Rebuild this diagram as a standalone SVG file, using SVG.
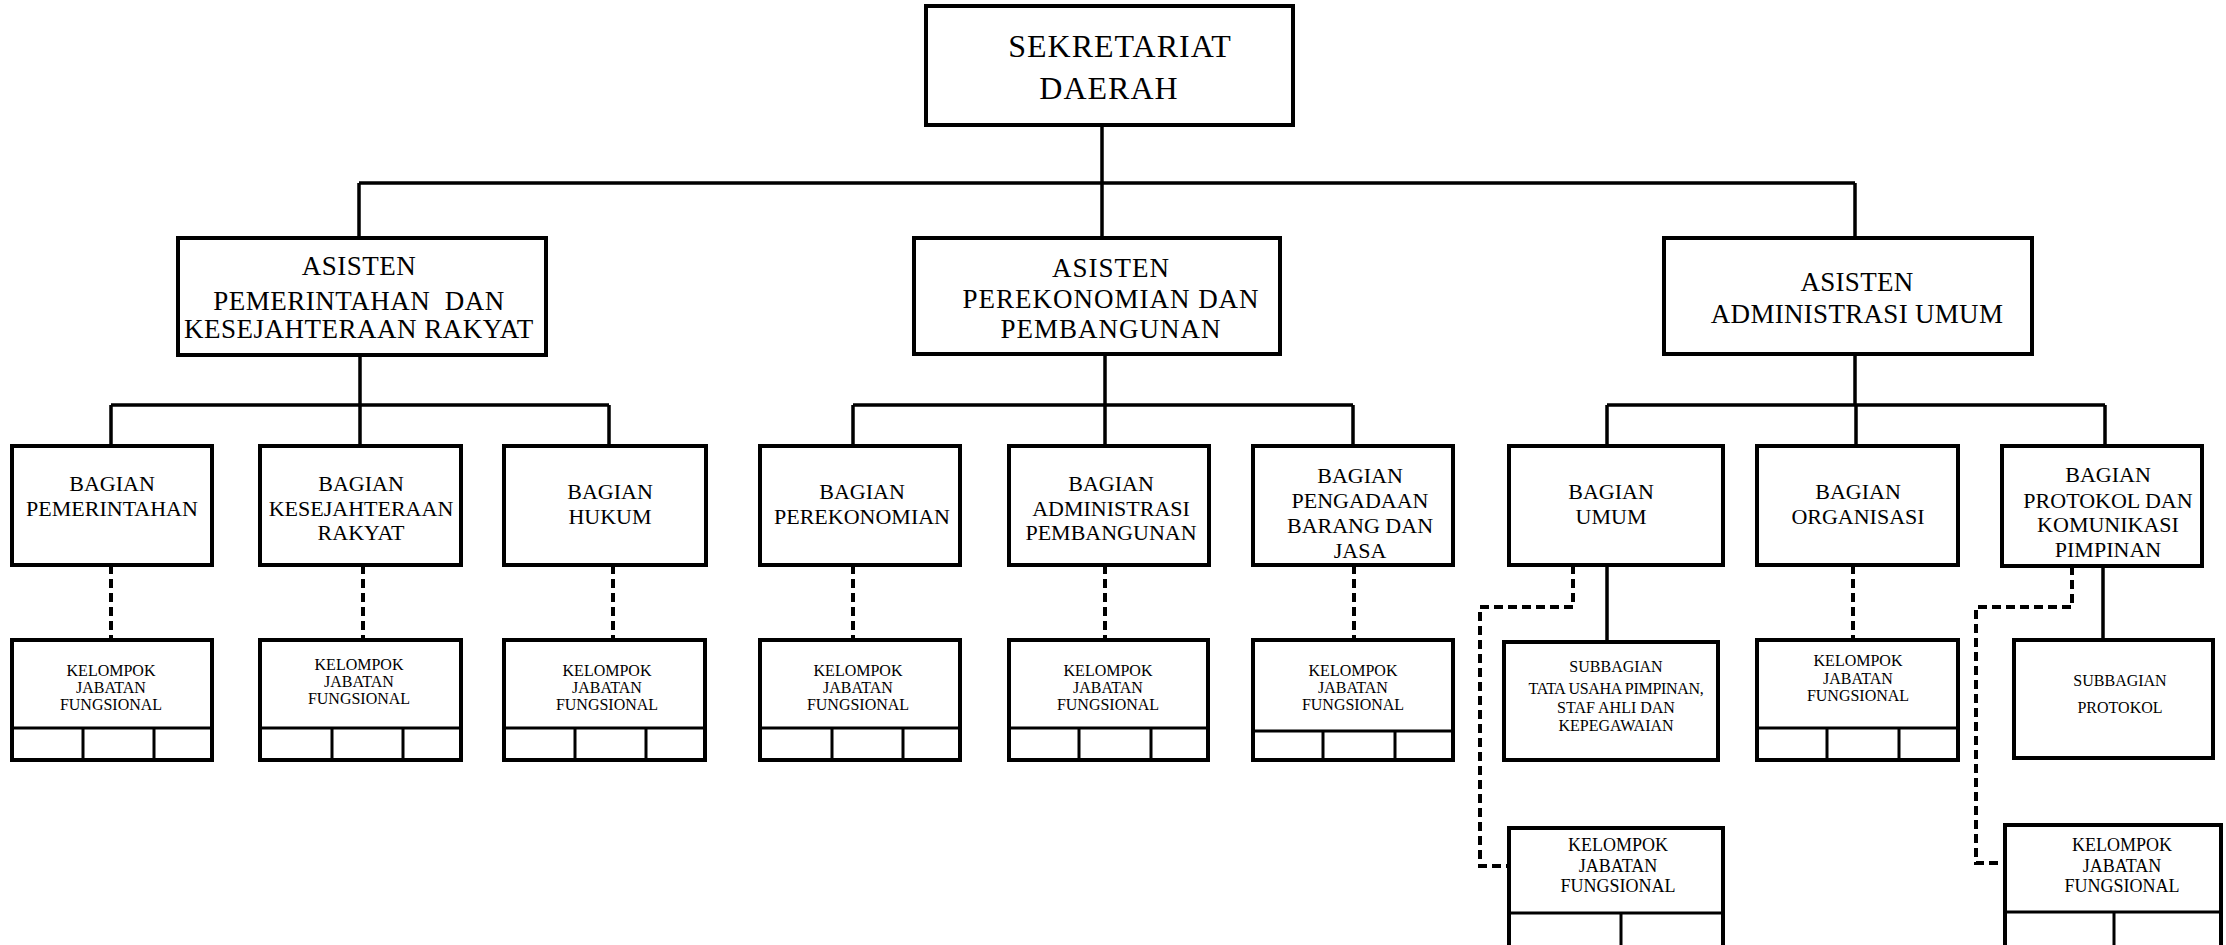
<svg xmlns="http://www.w3.org/2000/svg" width="2226" height="945" viewBox="0 0 2226 945">
<style>
.box{fill:#fff;stroke:#000;stroke-width:4}
.ln{fill:none;stroke:#000;stroke-width:3.5}
.ds{fill:none;stroke:#000;stroke-width:4;stroke-dasharray:9 5}
.dv{fill:none;stroke:#000;stroke-width:3}
text{font-family:"Liberation Serif","Times New Roman",serif;fill:#000;text-anchor:middle}
.t0{font-size:32px;letter-spacing:1px}
.t1{font-size:27px}
.t2{font-size:22px}
.t3{font-size:16px}
.t4{font-size:18px}
</style>
<rect width="2226" height="945" fill="#fff"/>
<g id="connectors">
<path class="ln" d="M1102,125V183M359,183H1855M359,183V238M1102,183V238M1855,183V238"/>
<path class="ln" d="M360,355V405M111,405H609M111,405V446M360,405V446M609,405V446"/>
<path class="ln" d="M1105,354V405M853,405H1353M853,405V446M1105,405V446M1353,405V446"/>
<path class="ln" d="M1855,354V405M1607,405H2105M1607,405V446M1856,405V446M2105,405V446"/>
<path class="ds" d="M111,565V640M363,565V640M613,565V640M853,565V640M1105,565V640M1354,565V640M1853,565V640"/>
<path class="ln" d="M1607,565V642M2103,566V640"/>
<path class="ds" d="M1573,565V607H1480V866H1509"/>
<path class="ds" d="M2072,566V607H1976V863H2005"/>
</g>
<g id="sekretariat">
<rect class="box" x="926" y="6" width="367" height="119"/>
<text class="t0" x="1120" y="57">SEKRETARIAT</text>
<text class="t0" x="1109" y="99">DAERAH</text>
</g>
<g id="asisten-pk">
<rect class="box" x="178" y="238" width="368" height="117"/>
<text class="t1" x="359" y="275" style="letter-spacing:0.5px">ASISTEN</text>
<text class="t1" x="359" y="310" style="letter-spacing:0.5px" xml:space="preserve">PEMERINTAHAN  DAN</text>
<text class="t1" x="359" y="338" style="letter-spacing:0.5px">KESEJAHTERAAN RAKYAT</text>
</g>
<g id="asisten-pp">
<rect class="box" x="914" y="238" width="366" height="116"/>
<text class="t1" x="1111" y="277" style="letter-spacing:1px">ASISTEN</text>
<text class="t1" x="1111" y="308" style="letter-spacing:1px">PEREKONOMIAN DAN</text>
<text class="t1" x="1111" y="338" style="letter-spacing:1px">PEMBANGUNAN</text>
</g>
<g id="asisten-au">
<rect class="box" x="1664" y="238" width="368" height="116"/>
<text class="t1" x="1857" y="291" style="letter-spacing:0.3px">ASISTEN</text>
<text class="t1" x="1857" y="323" style="letter-spacing:0.3px">ADMINISTRASI UMUM</text>
</g>
<g id="bagian-pemerintahan">
<rect class="box" x="12" y="446" width="200" height="119"/>
<text class="t2" x="112" y="491">BAGIAN</text>
<text class="t2" x="112" y="516">PEMERINTAHAN</text>
</g>
<g id="bagian-kesra">
<rect class="box" x="260" y="446" width="201" height="119"/>
<text class="t2" x="361" y="491">BAGIAN</text>
<text class="t2" x="361" y="516">KESEJAHTERAAN</text>
<text class="t2" x="361" y="540">RAKYAT</text>
</g>
<g id="bagian-hukum">
<rect class="box" x="504" y="446" width="202" height="119"/>
<text class="t2" x="610" y="499">BAGIAN</text>
<text class="t2" x="610" y="524">HUKUM</text>
</g>
<g id="bagian-perekonomian">
<rect class="box" x="760" y="446" width="200" height="119"/>
<text class="t2" x="862" y="499">BAGIAN</text>
<text class="t2" x="862" y="524">PEREKONOMIAN</text>
</g>
<g id="bagian-administrasi">
<rect class="box" x="1009" y="446" width="200" height="119"/>
<text class="t2" x="1111" y="491">BAGIAN</text>
<text class="t2" x="1111" y="516">ADMINISTRASI</text>
<text class="t2" x="1111" y="540">PEMBANGUNAN</text>
</g>
<g id="bagian-pengadaan">
<rect class="box" x="1253" y="446" width="200" height="119"/>
<text class="t2" x="1360" y="483">BAGIAN</text>
<text class="t2" x="1360" y="508">PENGADAAN</text>
<text class="t2" x="1360" y="533">BARANG DAN</text>
<text class="t2" x="1360" y="558">JASA</text>
</g>
<g id="bagian-umum">
<rect class="box" x="1509" y="446" width="214" height="119"/>
<text class="t2" x="1611" y="499">BAGIAN</text>
<text class="t2" x="1611" y="524">UMUM</text>
</g>
<g id="bagian-organisasi">
<rect class="box" x="1757" y="446" width="201" height="119"/>
<text class="t2" x="1858" y="499">BAGIAN</text>
<text class="t2" x="1858" y="524">ORGANISASI</text>
</g>
<g id="bagian-protokol">
<rect class="box" x="2002" y="446" width="200" height="120"/>
<text class="t2" x="2108" y="482">BAGIAN</text>
<text class="t2" x="2108" y="508">PROTOKOL DAN</text>
<text class="t2" x="2108" y="532">KOMUNIKASI</text>
<text class="t2" x="2108" y="557">PIMPINAN</text>
</g>
<g id="jf-pemerintahan">
<rect class="box" x="12" y="640" width="200" height="120"/>
<path class="dv" d="M12,728H212M83,728V760M154,728V760"/>
<text class="t3" x="111" y="676">KELOMPOK</text>
<text class="t3" x="111" y="693">JABATAN</text>
<text class="t3" x="111" y="710">FUNGSIONAL</text>
</g>
<g id="jf-kesra">
<rect class="box" x="260" y="640" width="201" height="120"/>
<path class="dv" d="M260,728H461M332,728V760M403,728V760"/>
<text class="t3" x="359" y="670">KELOMPOK</text>
<text class="t3" x="359" y="687">JABATAN</text>
<text class="t3" x="359" y="704">FUNGSIONAL</text>
</g>
<g id="jf-hukum">
<rect class="box" x="504" y="640" width="201" height="120"/>
<path class="dv" d="M504,728H705M575,728V760M646,728V760"/>
<text class="t3" x="607" y="676">KELOMPOK</text>
<text class="t3" x="607" y="693">JABATAN</text>
<text class="t3" x="607" y="710">FUNGSIONAL</text>
</g>
<g id="jf-perekonomian">
<rect class="box" x="760" y="640" width="200" height="120"/>
<path class="dv" d="M760,728H960M832,728V760M903,728V760"/>
<text class="t3" x="858" y="676">KELOMPOK</text>
<text class="t3" x="858" y="693">JABATAN</text>
<text class="t3" x="858" y="710">FUNGSIONAL</text>
</g>
<g id="jf-administrasi">
<rect class="box" x="1009" y="640" width="199" height="120"/>
<path class="dv" d="M1009,728H1208M1079,728V760M1151,728V760"/>
<text class="t3" x="1108" y="676">KELOMPOK</text>
<text class="t3" x="1108" y="693">JABATAN</text>
<text class="t3" x="1108" y="710">FUNGSIONAL</text>
</g>
<g id="jf-pengadaan">
<rect class="box" x="1253" y="640" width="200" height="120"/>
<path class="dv" d="M1253,731H1453M1323,731V760M1395,731V760"/>
<text class="t3" x="1353" y="676">KELOMPOK</text>
<text class="t3" x="1353" y="693">JABATAN</text>
<text class="t3" x="1353" y="710">FUNGSIONAL</text>
</g>
<g id="subbagian-tu">
<rect class="box" x="1504" y="642" width="214" height="118"/>
<text class="t3" x="1616" y="672">SUBBAGIAN</text>
<text class="t3" x="1616" y="694" style="letter-spacing:-0.3px">TATA USAHA PIMPINAN,</text>
<text class="t3" x="1616" y="713">STAF AHLI DAN</text>
<text class="t3" x="1616" y="731">KEPEGAWAIAN</text>
</g>
<g id="jf-organisasi">
<rect class="box" x="1757" y="640" width="201" height="120"/>
<path class="dv" d="M1757,728H1958M1827,728V760M1899,728V760"/>
<text class="t3" x="1858" y="666">KELOMPOK</text>
<text class="t3" x="1858" y="684">JABATAN</text>
<text class="t3" x="1858" y="701">FUNGSIONAL</text>
</g>
<g id="subbagian-protokol">
<rect class="box" x="2014" y="640" width="199" height="118"/>
<text class="t3" x="2120" y="686">SUBBAGIAN</text>
<text class="t3" x="2120" y="713">PROTOKOL</text>
</g>
<g id="jf-umum">
<rect class="box" x="1509" y="828" width="214" height="122"/>
<path class="dv" d="M1509,913H1723M1621,913V950"/>
<text class="t4" x="1618" y="851">KELOMPOK</text>
<text class="t4" x="1618" y="872">JABATAN</text>
<text class="t4" x="1618" y="892">FUNGSIONAL</text>
</g>
<g id="jf-protokol">
<rect class="box" x="2005" y="825" width="216" height="125"/>
<path class="dv" d="M2005,912H2221M2114,912V945"/>
<text class="t4" x="2122" y="851">KELOMPOK</text>
<text class="t4" x="2122" y="872">JABATAN</text>
<text class="t4" x="2122" y="892">FUNGSIONAL</text>
</g>
</svg>
